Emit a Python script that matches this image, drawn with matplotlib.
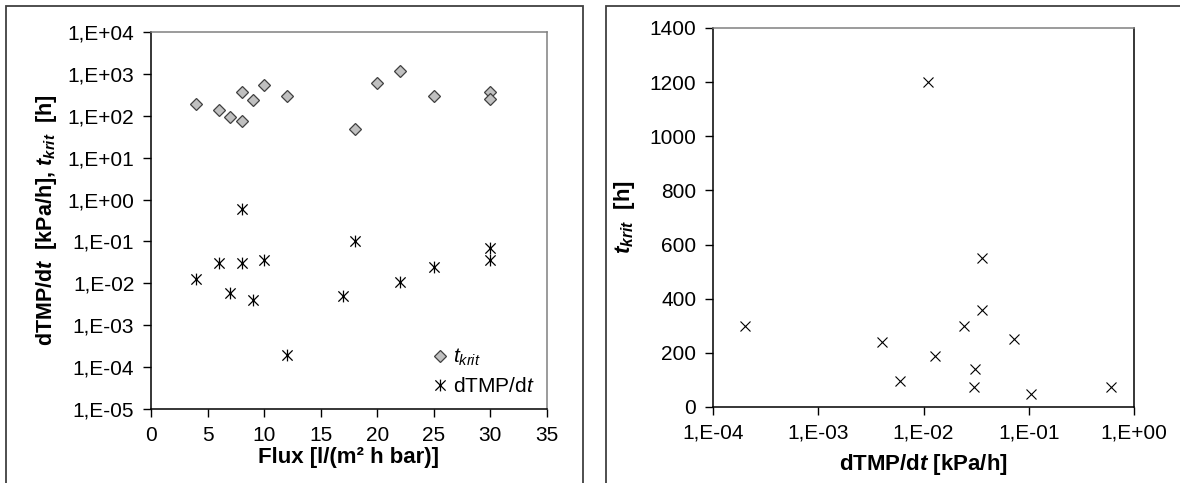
import numpy as np
import matplotlib
matplotlib.use("Agg")
import matplotlib.pyplot as plt
from matplotlib.path import Path
from matplotlib.patches import Rectangle
from matplotlib.ticker import NullLocator, FuncFormatter, MultipleLocator

# Schriften: Arial-Ersatz und Mathtext fuer kursive t
plt.rcParams['font.family'] = ['Liberation Sans', 'DejaVu Sans']
plt.rcParams['mathtext.fontset'] = 'custom'
plt.rcParams['mathtext.rm'] = 'Liberation Sans'
plt.rcParams['mathtext.it'] = 'Liberation Sans:italic'
plt.rcParams['mathtext.bf'] = 'Liberation Sans:bold'
plt.rcParams['mathtext.bfit'] = 'Liberation Sans:italic:bold'

# Daten links: Flux gegen t_krit und dTMP/dt
flux_tkrit = [4, 6, 7, 8, 8, 9, 10, 12, 18, 20, 22, 25, 30, 30]
tkrit = [190, 139, 96, 75, 360, 240, 550, 300, 49, 600, 1200, 300, 360, 250]

flux_dtmp = [4, 6, 7, 8, 8, 9, 10, 12, 17, 18, 22, 25, 30, 30]
dtmp = [0.013, 0.031, 0.006, 0.03, 0.6, 0.0039, 0.036, 0.0002, 0.005, 0.105, 0.011, 0.024, 0.071, 0.036]

# Daten rechts: dTMP/dt gegen t_krit
dtmp_r = [0.0002, 0.004, 0.006, 0.011, 0.013, 0.024, 0.031, 0.030, 0.036, 0.036, 0.072, 0.105, 0.6]
tkrit_r = [300, 240, 96, 1200, 190, 300, 139, 75, 550, 360, 250, 48, 75]

left_yticks = [1e-5, 1e-4, 1e-3, 1e-2, 1e-1, 1e0, 1e1, 1e2, 1e3, 1e4]
right_xticks = [1e-4, 1e-3, 1e-2, 1e-1, 1e0]


def excel_sci(v, pos):
    e = int(np.round(np.log10(v)))
    return f"1,E{e:+03d}"


# Excel-Sternmarker: X mit senkrechtem Strich
star = Path([(-1, -1), (1, 1), (-1, 1), (1, -1), (0, -1.15), (0, 1.15)],
            [Path.MOVETO, Path.LINETO, Path.MOVETO, Path.LINETO, Path.MOVETO, Path.LINETO])

W, H = 1180, 483
fig = plt.figure(figsize=(W / 100, H / 100), dpi=100)

# Rahmen um beide Diagramme
fig.patches.append(Rectangle((6 / W, -0.1), 577 / W, 1.1 - 6 / H, transform=fig.transFigure,
                             fill=False, edgecolor='#404040', lw=1.3))
fig.patches.append(Rectangle((606 / W, -0.1), 0.6, 1.1 - 6 / H, transform=fig.transFigure,
                             fill=False, edgecolor='#404040', lw=1.3))

ax1 = fig.add_axes([151 / W, (H - 409) / H, 396 / W, 377 / H])
ax2 = fig.add_axes([713 / W, (H - 407) / H, 421 / W, 379 / H])

# --- linkes Diagramm ---
ax1.plot(flux_tkrit, tkrit, linestyle='none', marker='D', markersize=5.8,
         markerfacecolor='#c0c0c0', markeredgecolor='#404040', markeredgewidth=0.9,
         label=r'$t_{krit}$')
ax1.plot(flux_dtmp, dtmp, linestyle='none', marker=star, markersize=8.5,
         markerfacecolor='none', markeredgecolor='black', markeredgewidth=0.9,
         label=r'dTMP/d$t$')
ax1.set_yscale('log')
ax1.set_xlim(0, 35)
ax1.set_ylim(1e-5, 1e4)
ax1.xaxis.set_major_locator(MultipleLocator(5))
ax1.set_yticks(left_yticks)
ax1.yaxis.set_minor_locator(NullLocator())
ax1.yaxis.set_major_formatter(FuncFormatter(excel_sci))
ax1.set_xlabel('Flux [l/(m² h bar)]', fontsize=16, fontweight='bold', labelpad=2)
ax1.set_ylabel(r'dTMP/d$\mathbfit{t}$  [kPa/h], $\mathbfit{t}_{\mathbfit{krit}}$  [h]',
               fontsize=15.5, fontweight='bold', labelpad=6)
ax1.legend(loc='lower right', bbox_to_anchor=(1.0, 0.0), frameon=False, fontsize=15,
           handlelength=0.6, handletextpad=0.3, labelspacing=0.45, borderaxespad=0.2)

# --- rechtes Diagramm ---
ax2.plot(dtmp_r, tkrit_r, linestyle='none', marker='x', markersize=7.5,
         markeredgecolor='black', markeredgewidth=0.8)
ax2.set_xscale('log')
ax2.set_xlim(1e-4, 1e0)
ax2.set_ylim(0, 1400)
ax2.set_xticks(right_xticks)
ax2.xaxis.set_minor_locator(NullLocator())
ax2.xaxis.set_major_formatter(FuncFormatter(excel_sci))
ax2.yaxis.set_major_locator(MultipleLocator(200))
ax2.set_xlabel(r'dTMP/d$\mathbfit{t}$ [kPa/h]', fontsize=16, fontweight='bold', labelpad=7)
ax2.set_ylabel(r'$\mathbfit{t}_{\mathbfit{krit}}$  [h]', fontsize=16, fontweight='bold', labelpad=9)

for ax in (ax1, ax2):
    ax.tick_params(axis='both', which='major', direction='out', length=6, width=1,
                   labelsize=15, color='black', pad=6)
    ax.spines['left'].set_color('black')
    ax.spines['bottom'].set_color('black')
    ax.spines['top'].set_color('#808080')
    for s in ax.spines.values():
        s.set_linewidth(1.1)
ax1.spines['right'].set_color('#808080')
ax2.spines['right'].set_color('black')

fig.savefig('out.png', dpi=100)
